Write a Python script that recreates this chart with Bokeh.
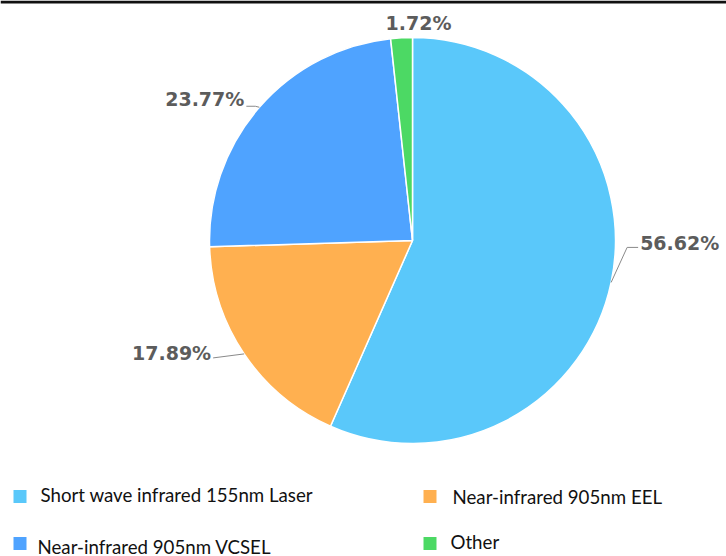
import math
from bokeh.plotting import figure
from bokeh.models import Range1d, ColumnDataSource, BoxAnnotation
from bokeh.core.properties import value
from bokeh.embed import file_html
from bokeh.resources import INLINE

# Market share by laser source
categories = ["Short wave infrared 155nm Laser", "Near-infrared 905nm EEL",
              "Near-infrared 905nm VCSEL", "Other"]
shares = [56.62, 17.89, 23.77, 1.72]
colors = ["#5AC8FA", "#FFB050", "#4FA3FF", "#4CD964"]

W, H = 726, 556
CX, CY, R = 412, H - 240, 203

p = figure(width=W, height=H, output_backend="svg", toolbar_location=None,
           x_range=Range1d(0, W), y_range=Range1d(0, H), min_border=0)
p.axis.visible = False
p.grid.visible = False
p.outline_line_color = None
p.background_fill_color = "white"

# thin dark rule along the top edge
p.add_layout(BoxAnnotation(top=H, bottom=H - 3, fill_color="#111111",
                           fill_alpha=1, line_color=None))

total = sum(shares)
starts, ends, mids = [], [], []
acc = 0.0
for s in shares:
    a0 = math.pi / 2 - 2 * math.pi * acc / total
    acc += s
    a1 = math.pi / 2 - 2 * math.pi * acc / total
    starts.append(a0)
    ends.append(a1)
    mids.append((a0 + a1) / 2)

src = ColumnDataSource(dict(start=starts, end=ends, color=colors))
p.wedge(x=CX, y=CY, radius=R, start_angle="start", end_angle="end",
        direction="clock", fill_color="color", line_color="white",
        line_width=1.5, source=src)

# label placement: (elbow dx, elbow dy, end x offset, align) relative to slice edge
label_layout = [
    dict(elbow=(16, 35), run=11, gap=2, dy=4),     # 56.62%
    dict(elbow=(-31, -4), run=0, gap=-2, dy=5),    # 17.89%
    dict(elbow=(-4, 1), run=-9, gap=-2, dy=7),     # 23.77%
    None,                                          # 1.72%
]

lx, ly, lt, la = [], [], [], []
xs, ys = [], []
for i, s in enumerate(shares):
    m = mids[i]
    ex, ey = CX + R * math.cos(m), CY + R * math.sin(m)
    text = f"{s:.2f}%"
    lay = label_layout[i]
    if lay is None:
        lx.append(ex + 17)
        ly.append(ey + 15)
        lt.append(text)
        la.append("center")
        continue
    bx, by = ex + lay["elbow"][0], ey + lay["elbow"][1]
    fx = bx + lay["run"]
    xs.append([ex, bx, fx])
    ys.append([ey, by, by])
    right = math.cos(m) > 0
    lx.append(fx + lay["gap"])
    ly.append(by + lay["dy"])
    lt.append(text)
    la.append("left" if right else "right")

p.multi_line(xs=xs, ys=ys, line_color="#8a8a8a", line_width=1)
p.text(x=lx, y=ly, text=lt, text_align=la, text_baseline="middle",
       text_font=value("DejaVu Sans"), text_font_style="bold",
       text_font_size="19px", text_color="#5c5c5c")

# legend, two columns
leg_order = [0, 1, 2, 3]
leg_sq_x = [19.5, 429.5, 19.5, 429.5]
leg_sq_y = [H - 496, H - 496, H - 543, H - 543]
leg_tx = [40, 452, 37, 450]
leg_ty = [H - 494, H - 496, H - 546, H - 541]
p.rect(x=leg_sq_x, y=leg_sq_y, width=13, height=13,
       fill_color=[colors[i] for i in leg_order], line_color=None)
p.text(x=leg_tx, y=leg_ty, text=[categories[i] for i in leg_order],
       text_baseline="middle", text_font=value("Lato"),
       text_font_size="18.7px", text_color="#111111")

open("out.html", "w").write(file_html(p, INLINE))
